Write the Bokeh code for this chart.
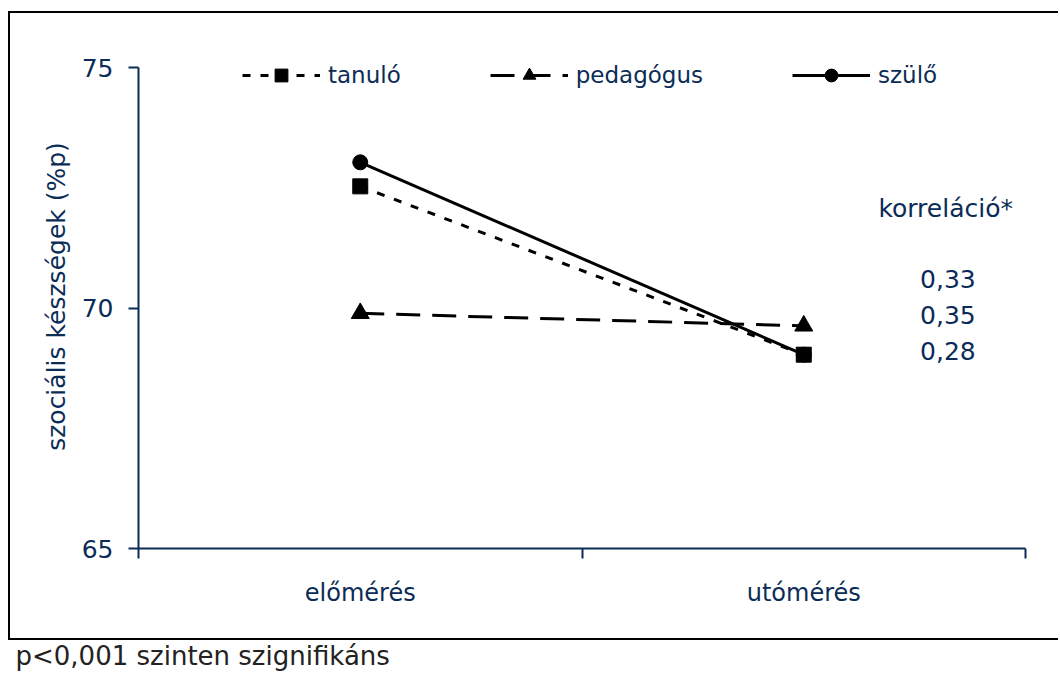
from bokeh.plotting import figure
from bokeh.layouts import column
from bokeh.models import FixedTicker, Legend, LegendItem, Label, Range1d, Title
from bokeh.embed import file_html
from bokeh.resources import INLINE

# ---- data ----
cats = ["előmérés", "utómérés"]
tanulo = [72.53, 69.03]
pedagogus = [69.89, 69.63]
szulo = [73.03, 69.03]
series_names = ["tanuló", "pedagógus", "szülő"]
corr_title = "korreláció*"
corr_values = ["0,33", "0,35", "0,28"]
y_ticks = [65, 70, 75]
y_label = "szociális készségek (%p)"
footnote = "p<0,001 szinten szignifikáns"

NAVY = "#0b2c56"
FONT = "DejaVu Sans"

y_top_pad = 0.48  # headroom above the 75 line for the legend

p = figure(width=1050, height=629, output_backend="svg", toolbar_location=None,
           x_range=Range1d(0, len(cats)), y_range=Range1d(min(y_ticks), max(y_ticks) + y_top_pad),
           min_border_left=128, min_border_right=35, min_border_top=31, min_border_bottom=94,
           margin=(11, 0, 0, 8),
           styles={"border-left": "2px solid black", "border-top": "2px solid black",
                   "border-bottom": "2px solid black"})
p.grid.visible = False
p.outline_line_color = None
p.background_fill_color = "white"
p.border_fill_color = "white"

x = [i + 0.5 for i in range(len(cats))]

# x axis: labels at category centres, tick marks at boundaries
xa = p.xaxis[0]
xa.ticker = FixedTicker(ticks=x, minor_ticks=list(range(len(cats) + 1)))
xa.major_label_overrides = {xi: c for xi, c in zip(x, cats)}
xa.major_tick_line_color = None
xa.major_tick_out = 0
xa.major_tick_in = 0
xa.minor_tick_out = 10
xa.minor_tick_in = 0
xa.minor_tick_line_color = NAVY
xa.minor_tick_line_width = 2
xa.axis_line_color = NAVY
xa.axis_line_width = 2
xa.major_label_text_font = FONT
xa.major_label_text_font_size = "24px"
xa.major_label_text_color = NAVY
xa.major_label_standoff = 20

ya = p.yaxis[0]
ya.ticker = FixedTicker(ticks=y_ticks, minor_ticks=[])
ya.bounds = (min(y_ticks), max(y_ticks))
ya.major_tick_out = 10
ya.major_tick_in = 0
ya.major_tick_line_color = NAVY
ya.major_tick_line_width = 2
ya.axis_line_color = NAVY
ya.axis_line_width = 2
ya.major_label_text_font = FONT
ya.major_label_text_font_size = "25px"
ya.major_label_text_color = NAVY
ya.major_label_standoff = 15
ya.axis_label = y_label
ya.axis_label_text_font = FONT
ya.axis_label_text_font_size = "25px"
ya.axis_label_text_font_style = "normal"
ya.axis_label_text_color = NAVY
ya.axis_label_standoff = 8

# ---- series ----
s_line = p.line(x, szulo, line_color="black", line_width=3)
s_pts = p.scatter(x, szulo, marker="circle", size=15, color="black")
p_line = p.line(x, pedagogus, line_color="black", line_width=3, line_dash="24 12")
p_pts = p.scatter(x, pedagogus, marker="triangle", size=18, color="black")
t_line = p.line(x, tanulo, line_color="black", line_width=3, line_dash="8 10")
t_pts = p.scatter(x, tanulo, marker="square", size=15, color="black")

legend = Legend(items=[
    LegendItem(label=series_names[0], renderers=[t_line, t_pts]),
    LegendItem(label=series_names[1], renderers=[p_line, p_pts]),
    LegendItem(label=series_names[2], renderers=[s_line, s_pts]),
], location=(104, 457), orientation="horizontal", glyph_width=78, glyph_height=32,
    label_standoff=8, spacing=89, padding=0, margin=0,
    label_text_font=FONT, label_text_font_size="23px", label_text_color=NAVY,
    background_fill_alpha=0, border_line_color=None)
p.add_layout(legend, "center")

# correlation annotations
p.add_layout(Label(x=1.82, y=72.07, text=corr_title, text_align="center", text_baseline="middle",
                   text_font=FONT, text_font_size="25px", text_color=NAVY))
for i, v in enumerate(corr_values):
    p.add_layout(Label(x=1.825, y=70.61 - 0.75 * i, text=v, text_align="center", text_baseline="middle",
                       text_font=FONT, text_font_size="25px", text_color=NAVY))

# footnote strip below the framed chart
fn = figure(width=1060, height=34, output_backend="svg", toolbar_location=None,
            x_range=Range1d(0, 1), y_range=Range1d(0, 1), min_border=0)
fn.axis.visible = False
fn.grid.visible = False
fn.outline_line_color = None
fn.add_layout(Title(text=footnote, align="left", offset=-113, standoff=0, vertical_align="top",
                    text_font=FONT, text_font_size="26px", text_font_style="normal",
                    text_color="#222222"), "above")

layout = column(p, fn, spacing=0)
open("out.html", "w").write(file_html(layout, INLINE))
